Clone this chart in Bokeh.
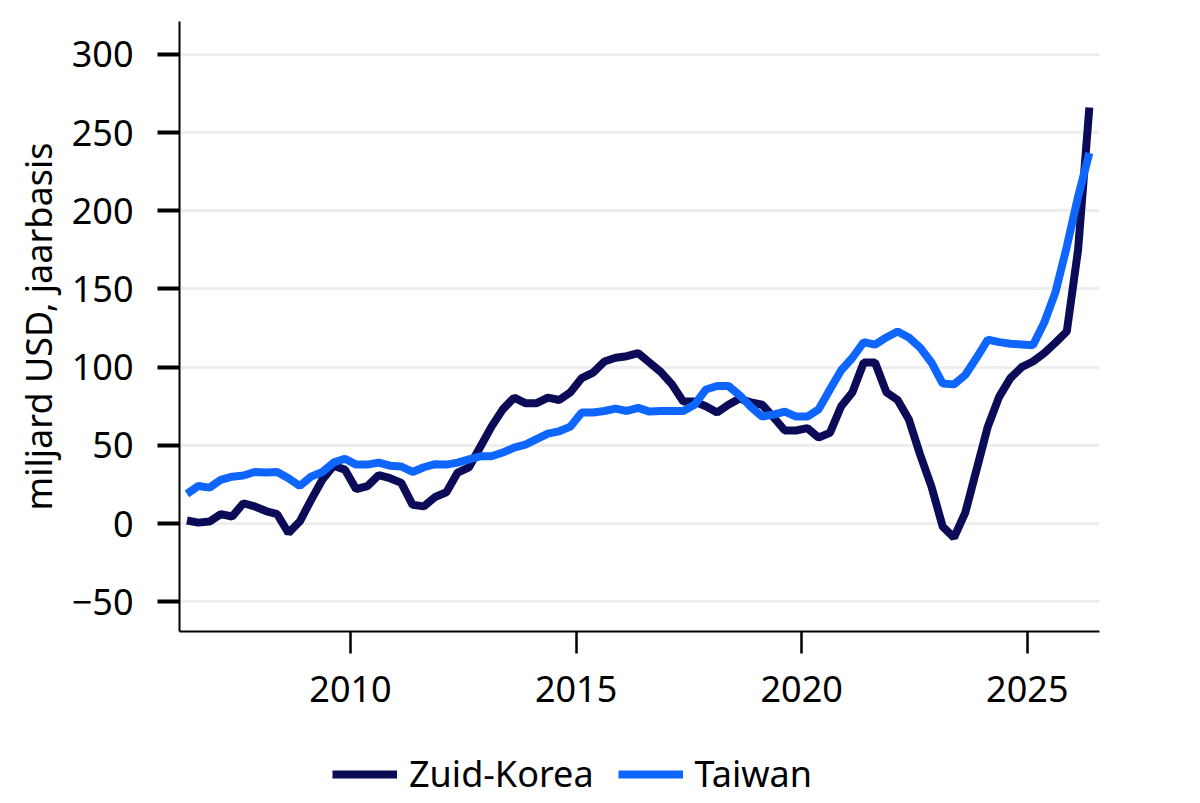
import pandas as pd
from bokeh.plotting import figure
from bokeh.layouts import column
from bokeh.models import ColumnDataSource, FixedTicker, Legend, LegendItem, Range1d
from bokeh.embed import file_html
from bokeh.resources import INLINE

# Quarterly data, 2006Q2 - 2026Q2 (miljard USD, jaarbasis)
quarters = pd.period_range("2006Q2", "2026Q2", freq="Q")
years = [q.year + (q.quarter - 1) / 4 + 0.125 for q in quarters]

zuid_korea = [
    2, 0.6, 1.3, 6, 4.5, 13, 11, 8, 6, -6,
    1.3, 15, 28, 37, 34.5, 22, 24, 31, 29, 26,
    12, 11, 17, 20, 32.6, 36, 49, 62, 73, 80.5,
    77, 77, 80.5, 79, 84, 93, 96.5, 103.6, 106, 107,
    109, 103, 97, 89, 78, 78, 75, 71, 76, 80,
    77.4, 76, 68, 59.5, 59.5, 61, 55, 58, 75, 84,
    103, 103, 84, 79, 66.5, 44, 23.7, -2, -9, 7,
    34.5, 62, 81, 93, 100, 103.6, 109, 115.7, 122.8, 175,
    266,
]
taiwan = [
    19, 24, 23, 28, 30, 30.7, 33, 32.6, 33, 29,
    24, 30, 33, 39, 41.5, 37.7, 37.7, 39, 37, 36.5,
    33, 36, 38, 37.7, 39, 41, 43, 43, 45.4, 48.6,
    50.5, 54, 57.5, 59, 62, 71, 71, 72, 73.5, 72,
    74, 71.6, 72, 72, 72, 76, 85.7, 88, 88, 82,
    74.5, 68.4, 69.7, 71.6, 68.4, 68.4, 73, 85.7, 98, 106,
    116, 114.4, 119, 122.8, 119, 112.5, 103, 89.5, 89, 95,
    106, 117.6, 116, 115, 114.5, 114, 128.5, 148, 177, 209,
    237,
]

series_names = ["Zuid-Korea", "Taiwan"]
series_cols = ["korea", "taiwan"]
series_colors = ["#0b0b58", "#0f66ff"]
x_ticks = [2010, 2015, 2020, 2025]
y_ticks = [-50, 0, 50, 100, 150, 200, 250, 300]

FONT = "Noto Sans"
FS = "36px"

source = ColumnDataSource(data=dict(x=years, korea=zuid_korea, taiwan=taiwan))

p = figure(width=1184, output_backend="svg", toolbar_location=None,
           x_range=Range1d(2006.21, 2026.6), y_range=Range1d(-69, 321),
           frame_width=920, frame_height=610,
           min_border_left=179, min_border_top=21, min_border_right=85,
           min_border_bottom=88)
p.outline_line_color = None
p.background_fill_color = "white"

for col, color in zip(series_cols, series_colors):
    p.line("x", col, source=source, line_color=color, line_width=8)

# axes
p.xaxis.ticker = FixedTicker(ticks=x_ticks)
p.yaxis.ticker = FixedTicker(ticks=y_ticks)
for ax in (p.xaxis[0], p.yaxis[0]):
    ax.axis_line_color = "black"
    ax.axis_line_width = 2
    ax.major_tick_line_color = "black"
    ax.major_tick_in = 0
    ax.major_tick_out = 22
    ax.minor_tick_line_color = None
    ax.major_label_text_font = FONT
    ax.major_label_text_font_size = FS
    ax.major_label_text_color = "black"
    ax.axis_label_text_font = FONT
    ax.axis_label_text_font_size = FS
    ax.axis_label_text_font_style = "normal"
    ax.axis_label_text_color = "black"
p.xaxis.major_tick_line_width = 2.5
p.yaxis.major_tick_line_width = 4
p.xaxis.major_label_standoff = 22
p.xaxis.axis_label_standoff = 0
p.yaxis.major_label_standoff = 24
p.yaxis.axis_label = "miljard USD, jaarbasis"
p.yaxis.axis_label_standoff = 6

p.xgrid.grid_line_color = None
p.ygrid.grid_line_color = "#eeeeee"
p.ygrid.grid_line_width = 3

# legend in its own strip below the chart (lines fall outside its range)
leg = figure(width=1184, height=80, output_backend="svg", toolbar_location=None,
             x_range=Range1d(0, 1), y_range=Range1d(0, 1),
             x_axis_type=None, y_axis_type=None,
             min_border=0)
leg.outline_line_color = None
leg.grid.visible = False
items = []
for name, col, color in zip(series_names, series_cols, series_colors):
    r = leg.line("x", col, source=source, line_color=color, line_width=8)
    items.append(LegendItem(label=name, renderers=[r]))
legend = Legend(items=items, orientation="horizontal", location=(153, 1))
legend.border_line_color = None
legend.background_fill_alpha = 0
legend.label_text_font = FONT
legend.label_text_font_size = FS
legend.label_text_color = "black"
legend.glyph_width = 65
legend.label_standoff = 12
legend.spacing = 24
legend.margin = 0
legend.padding = 0
leg.add_layout(legend)

layout = column(p, leg)
open("out.html", "w").write(file_html(layout, INLINE))
